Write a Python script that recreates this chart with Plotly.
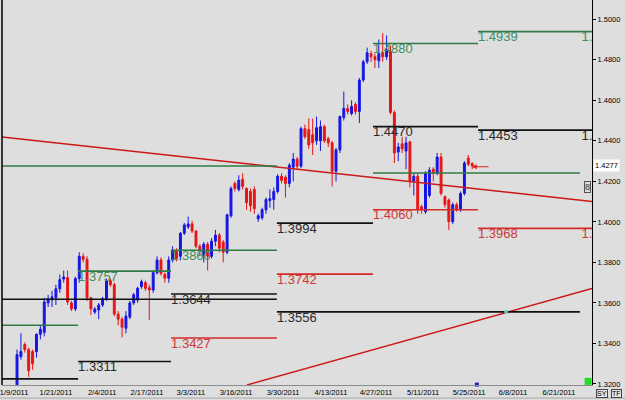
import plotly.graph_objects as go

# ---------------- data ----------------
bars = list(range(118))
opens = [1.3135,1.3335,1.3395,1.3370,1.3360,1.3360,1.3445,1.3455,1.3600,1.3615,
         1.3625,1.3670,1.3718,1.3725,1.3600,1.3570,1.3720,1.3830,1.3815,1.3625,
         1.3555,1.3565,1.3590,1.3620,1.3710,1.3690,1.3545,1.3520,1.3475,1.3530,
         1.3600,1.3614,1.3680,1.3700,1.3675,1.3664,1.3749,1.3812,1.3740,1.3722,
         1.3812,1.3855,1.3830,1.3944,1.3975,1.3990,1.3955,1.3880,1.3835,1.3890,
         1.3830,1.3905,1.3935,1.3900,1.3850,1.4030,1.4190,1.4160,1.4210,1.4165,
         1.4150,1.4160,1.4015,1.4020,1.4060,1.4105,1.4110,1.4150,1.4225,1.4220,
         1.4190,1.4270,1.4310,1.4275,1.4460,1.4455,1.4430,1.4400,1.4400,1.4470,
         1.4410,1.4390,1.4250,1.4355,1.4515,1.4560,1.4535,1.4580,1.4545,1.4700,
         1.4790,1.4830,1.4815,1.4795,1.4835,1.4815,1.4840,1.4540,1.4345,1.4385,
         1.4350,1.4395,1.4200,1.4225,1.4075,1.4050,1.4130,1.4260,1.4240,1.4320,
         1.4125,1.4108,1.4001,1.4085,1.4060,1.4140,1.4315,1.4288]
highs = [1.3370,1.3450,1.3405,1.3380,1.3370,1.3450,1.3490,1.3625,1.3640,1.3660,
         1.3690,1.3740,1.3760,1.3760,1.3610,1.3730,1.3850,1.3845,1.3830,1.3630,
         1.3580,1.3600,1.3630,1.3720,1.3720,1.3700,1.3560,1.3530,1.3560,1.3610,
         1.3650,1.3680,1.3715,1.3710,1.3690,1.3760,1.3830,1.3825,1.3750,1.3830,
         1.3880,1.3870,1.3950,1.3995,1.4026,1.4005,1.3960,1.3890,1.3900,1.3900,
         1.3920,1.3960,1.3945,1.3910,1.4040,1.4175,1.4200,1.4230,1.4240,1.4170,
         1.4165,1.4175,1.4040,1.4070,1.4120,1.4160,1.4170,1.4235,1.4240,1.4230,
         1.4290,1.4340,1.4320,1.4470,1.4480,1.4510,1.4510,1.4520,1.4500,1.4480,
         1.4420,1.4400,1.4365,1.4525,1.4643,1.4580,1.4600,1.4590,1.4710,1.4800,
         1.4860,1.4845,1.4830,1.4900,1.4932,1.4920,1.4870,1.4550,1.4390,1.4420,
         1.4420,1.4400,1.4240,1.4240,1.4085,1.4250,1.4270,1.4270,1.4340,1.4340,
         1.4130,1.4115,1.4095,1.4095,1.4150,1.4300,1.4330,1.4295]
lows = [1.3120,1.3320,1.3355,1.3235,1.3270,1.3330,1.3420,1.3435,1.3580,1.3580,
        1.3590,1.3650,1.3700,1.3590,1.3560,1.3560,1.3700,1.3800,1.3610,1.3540,
        1.3545,1.3520,1.3580,1.3610,1.3680,1.3535,1.3490,1.3430,1.3450,1.3520,
        1.3590,1.3600,1.3670,1.3660,1.3516,1.3650,1.3740,1.3735,1.3700,1.3700,
        1.3800,1.3805,1.3810,1.3935,1.3965,1.3945,1.3870,1.3830,1.3800,1.3760,
        1.3820,1.3880,1.3850,1.3800,1.3840,1.4020,1.4150,1.4150,1.4160,1.4060,
        1.4050,1.4040,1.4000,1.4010,1.4040,1.4070,1.4060,1.4140,1.4190,1.4120,
        1.4170,1.4200,1.4260,1.4265,1.4410,1.4360,1.4330,1.4380,1.4350,1.4390,
        1.4370,1.4175,1.4200,1.4340,1.4500,1.4530,1.4525,1.4530,1.4488,1.4690,
        1.4780,1.4790,1.4760,1.4760,1.4790,1.4800,1.4530,1.4290,1.4300,1.4340,
        1.4260,1.4170,1.4130,1.4040,1.4040,1.4040,1.4120,1.4200,1.4230,1.4130,
        1.4070,1.3960,1.3990,1.4050,1.4050,1.4130,1.4275,1.4260]
closes = [1.3345,1.3360,1.3370,1.3265,1.3300,1.3445,1.3470,1.3605,1.3620,1.3630,
          1.3670,1.3715,1.3728,1.3605,1.3570,1.3720,1.3830,1.3815,1.3625,1.3570,
          1.3570,1.3590,1.3620,1.3710,1.3690,1.3545,1.3520,1.3480,1.3535,1.3600,
          1.3640,1.3672,1.3705,1.3672,1.3664,1.3749,1.3812,1.3745,1.3722,1.3812,
          1.3861,1.3820,1.3944,1.3985,1.3990,1.3955,1.3880,1.3860,1.3890,1.3830,
          1.3905,1.3935,1.3870,1.3850,1.4035,1.4165,1.4165,1.4205,1.4175,1.4095,
          1.4080,1.4065,1.4030,1.4060,1.4110,1.4115,1.4150,1.4225,1.4205,1.4190,
          1.4280,1.4310,1.4275,1.4460,1.4420,1.4380,1.4390,1.4465,1.4470,1.4400,
          1.4390,1.4250,1.4355,1.4520,1.4560,1.4545,1.4570,1.4545,1.4700,1.4790,
          1.4835,1.4815,1.4800,1.4830,1.4815,1.4850,1.4540,1.4340,1.4370,1.4360,
          1.4390,1.4200,1.4225,1.4060,1.4060,1.4240,1.4255,1.4240,1.4320,1.4140,
          1.4085,1.4001,1.4085,1.4060,1.4140,1.4290,1.4285,1.4277]

tick_pos = [-0.77, 10.0, 21.9, 33.4, 44.7, 56.3, 68.4, 80.7, 92.3, 104.4, 116.2, 127.5, 139.3]
tick_labels = ["1/9/2011", "1/21/2011", "2/4/2011", "2/17/2011", "3/3/2011", "3/16/2011",
               "3/30/2011", "4/13/2011", "4/27/2011", "5/11/2011", "5/25/2011", "6/8/2011", "6/21/2011"]

# monthly pivot periods (bar units)
period_start = [-3.9, 15.7, 39.6, 66.8, 91.5, 118.5]
period_end = [15.7, 39.6, 66.8, 91.5, 118.5, 147.8]
level_value = [1.3490, 1.3225, 1.3757, 1.3311, 1.3860, 1.3644, 1.3427,
               1.3994, 1.3742, 1.4880, 1.4470, 1.4060, 1.4939, 1.4453, 1.3968]
level_period = [0, 0, 1, 1, 2, 2, 2, 3, 3, 4, 4, 4, 5, 5, 5]
level_kind = ["R", "P", "R", "P", "R", "P", "S", "P", "S", "R", "P", "S", "R", "P", "S"]
level_labeled = [False, False, True, True, True, True, True, True, True, True, True, True, True, True, True]

# other horizontal lines
extra_value = [1.4276, 1.3618, 1.4241, 1.3556]
extra_start = [-3.9, -3.9, 91.5, 66.8]
extra_end = [66.8, 66.8, 144.7, 144.7]
extra_kind = ["R", "P", "R", "P"]
extra_labeled = [False, False, False, True]

# trend lines
trend_bars = [[-3.86, 147.8], [59.1, 147.8]]
trend_prices = [[1.4419, 1.4101], [1.3195, 1.3671]]

last_price = 1.4277

# ---------------- styling ----------------
BG = "#dedede"
UP = "#1414e6"
DN = "#e81414"
line_col = {"R": "#2f7a45", "P": "#111111", "S": "#d42a2a"}
text_col = {"R": "#3f8f5f", "P": "#2a2a2a", "S": "#cc3a3a"}

fig = go.Figure()

fig.add_trace(go.Candlestick(
    x=bars, open=opens, high=highs, low=lows, close=closes,
    increasing=dict(line=dict(color=UP, width=1), fillcolor=UP),
    decreasing=dict(line=dict(color=DN, width=1), fillcolor=DN),
    whiskerwidth=0, hoverinfo="skip", showlegend=False,
))

# trend lines
for tb, tp in zip(trend_bars, trend_prices):
    fig.add_trace(go.Scatter(x=tb, y=tp, mode="lines", line=dict(color="#cc1818", width=1.5),
                             hoverinfo="skip", showlegend=False))

# level segments grouped by kind
segs = {"R": ([], []), "P": ([], []), "S": ([], [])}
labels = {"R": ([], [], []), "P": ([], [], []), "S": ([], [], [])}
for v, p, k, lab in zip(level_value, level_period, level_kind, level_labeled):
    x0, x1 = period_start[p], period_end[p]
    segs[k][0].extend([x0, x1, None]); segs[k][1].extend([v, v, None])
    if lab:
        labels[k][0].append(x0); labels[k][1].append(v); labels[k][2].append(f"{v:.4f}")
        if p == 5:
            # repeated label at the right edge, cut off by the price axis
            labels[k][0].append(145.1); labels[k][1].append(v); labels[k][2].append(f"{v:.4f}"[:2])
for v, x0, x1, k, lab in zip(extra_value, extra_start, extra_end, extra_kind, extra_labeled):
    segs[k][0].extend([x0, x1, None]); segs[k][1].extend([v, v, None])
    if lab:
        labels[k][0].append(x0); labels[k][1].append(v); labels[k][2].append(f"{v:.4f}")

for k in ["R", "P", "S"]:
    fig.add_trace(go.Scatter(x=segs[k][0], y=segs[k][1], mode="lines",
                             line=dict(color=line_col[k], width=1.6),
                             hoverinfo="skip", showlegend=False))
for k in ["R", "P", "S"]:
    fig.add_trace(go.Scatter(x=labels[k][0], y=labels[k][1], text=labels[k][2], mode="text",
                             textposition="bottom right", cliponaxis=True,
                             textfont=dict(family="Liberation Sans", size=13, color=text_col[k]),
                             hoverinfo="skip", showlegend=False))

# small markers
fig.add_trace(go.Scatter(x=[125.7], y=[1.3556], mode="markers",
                         marker=dict(color="#6cc4c4", size=4), hoverinfo="skip", showlegend=False))
fig.add_trace(go.Scatter(x=[146.8], y=[1.3213], mode="markers", cliponaxis=False,
                         marker=dict(color="#22dd22", size=7, symbol="square"), hoverinfo="skip", showlegend=False))
fig.add_trace(go.Scatter(x=[118.2], y=[1.3197], mode="markers", cliponaxis=False,
                         marker=dict(color="#2020c0", size=4, symbol="square"), hoverinfo="skip", showlegend=False))

annotations = [
    dict(x=116.9, y=1.4272, ax=121.6, ay=1.4272, xref="x", yref="y", axref="x", ayref="y",
         text="", showarrow=True, arrowhead=2, arrowsize=1, arrowwidth=1, arrowcolor="#e02020"),
    dict(x=1.0, y=last_price, xref="paper", yref="y", xanchor="left", yanchor="middle", xshift=1,
         text="1.4277", showarrow=False, bgcolor="#ffffff", borderpad=1,
         font=dict(family="Liberation Sans", size=7.5, color="#000000")),
    dict(x=146.6, y=1.4172, xref="x", yref="y", text="8", showarrow=False,
         font=dict(family="Liberation Sans", size=9, color="#333333"),
         bordercolor="#555555", borderwidth=1, borderpad=0),
    dict(x=(602 - 2) / 590, y=(385 - 393) / 385, xref="paper", yref="paper", text="SY", showarrow=False,
         xanchor="center", yanchor="middle",
         font=dict(family="Liberation Sans", size=7, color="#000000"),
         bordercolor="#444444", borderwidth=1, borderpad=0, bgcolor="#e6e6e6"),
    dict(x=(616 - 2) / 590, y=(385 - 393) / 385, xref="paper", yref="paper", text="TF", showarrow=False,
         xanchor="center", yanchor="middle",
         font=dict(family="Liberation Sans", size=7, color="#000000"),
         bordercolor="#444444", borderwidth=1, borderpad=0, bgcolor="#e6e6e6"),
]

shapes = [
    dict(type="line", xref="paper", yref="paper", x0=0, x1=0, y0=0, y1=1,
         line=dict(color="#000000", width=1.5)),
    dict(type="line", xref="paper", yref="paper", x0=-0.004, x1=1.056, y0=-0.034, y1=-0.034,
         line=dict(color="#a8a8a8", width=1)),
]

fig.update_layout(
    width=625, height=400,
    margin=dict(l=2, r=33, t=0, b=15),
    paper_bgcolor=BG, plot_bgcolor=BG,
    font=dict(family="Liberation Sans", size=8, color="#000000"),
    showlegend=False,
    annotations=annotations, shapes=shapes,
    xaxis=dict(range=[-3.86, 147.8], tickmode="array", tickvals=tick_pos, ticktext=tick_labels,
               tickfont=dict(size=7.5), showgrid=False, zeroline=False, showline=True,
               linecolor="#8c8c8c", linewidth=1, ticks="", rangeslider=dict(visible=False),
               ticklabeloverflow="allow", fixedrange=True),
    yaxis=dict(range=[1.3195, 1.5095], side="right", tick0=1.32, dtick=0.02, tickformat=".4f",
               ticks="outside", ticklen=3, tickcolor="#000000", tickfont=dict(size=7.5),
               showgrid=False, zeroline=False, showline=True, linecolor="#000000", linewidth=1,
               ticklabeloverflow="allow", fixedrange=True),
)

fig.write_html("out.html")
